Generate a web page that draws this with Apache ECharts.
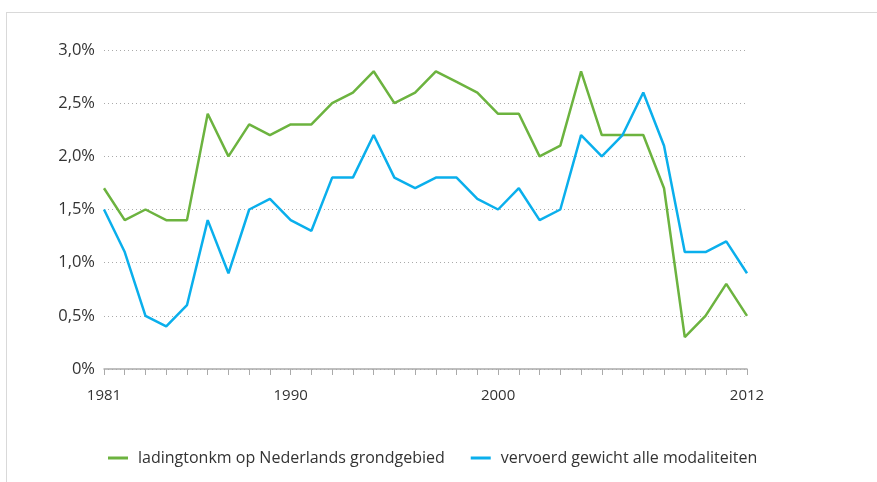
<!DOCTYPE html>
<html>
<head>
<meta charset="utf-8">
<script src="https://cdn.jsdelivr.net/npm/echarts@6/dist/echarts.min.js"></script>
<style>
  html, body { margin: 0; padding: 0; background: #fff; }
  #frame { position: absolute; left: 6px; top: 12px; width: 880px; height: 480px;
           border-left: 1px solid #d9d9d9; border-top: 1px solid #d9d9d9; }
  #chart { position: absolute; left: 0; top: 0; width: 877px; height: 482px; }
</style>
</head>
<body>
<div id="frame"></div>
<div id="chart"></div>
<script>
// jaren 1981-2012
const years = [];
for (let y = 1981; y <= 2012; y++) years.push(String(y));
const shownYears = ['1981', '1990', '2000', '2012'];

// ladingtonkm op Nederlands grondgebied (%)
const ladingtonkm = [1.7, 1.4, 1.5, 1.4, 1.4, 2.4, 2.0, 2.3, 2.2, 2.3,
    2.3, 2.5, 2.6, 2.8, 2.5, 2.6, 2.8, 2.7, 2.6, 2.4,
    2.4, 2.0, 2.1, 2.8, 2.2, 2.2, 2.2, 1.7, 0.3, 0.5,
    0.8, 0.5];
// vervoerd gewicht alle modaliteiten (%)
const vervoerd = [1.5, 1.1, 0.5, 0.4, 0.6, 1.4, 0.9, 1.5, 1.6, 1.4,
    1.3, 1.8, 1.8, 2.2, 1.8, 1.7, 1.8, 1.8, 1.6, 1.5,
    1.7, 1.4, 1.5, 2.2, 2.0, 2.2, 2.6, 2.1, 1.1, 1.1,
    1.2, 0.9];

const font = '"Open Sans", "Noto Sans", sans-serif';
const chart = echarts.init(document.getElementById('chart'));

chart.setOption({
    animation: false,
    textStyle: { fontFamily: font },
    grid: { left: 104, right: 130, top: 50, bottom: 113 },
    legend: {
        bottom: 11,
        left: 103,
        itemWidth: 20,
        itemHeight: 3,
        itemGap: 26,
        icon: 'rect',
        textStyle: { fontSize: 16, color: '#333', fontFamily: font, padding: [0, 0, 0, 5] },
        data: ['ladingtonkm op Nederlands grondgebied', 'vervoerd gewicht alle modaliteiten']
    },
    xAxis: {
        type: 'category',
        data: years,
        boundaryGap: false,
        axisLine: { lineStyle: { color: '#aaa', width: 1.5 } },
        axisTick: { alignWithLabel: true, interval: 0, length: 6, lineStyle: { color: '#aaa' } },
        axisLabel: {
            interval: (i, v) => shownYears.includes(v),
            color: '#333',
            fontSize: 15,
            margin: 19
        }
    },
    yAxis: {
        type: 'value',
        min: 0,
        max: 3,
        interval: 0.5,
        axisLine: { show: false },
        axisTick: { show: false },
        axisLabel: {
            color: '#333',
            fontSize: 16.5,
            margin: 9,
            formatter: v => v === 0 ? '0%' : v.toFixed(1).replace('.', ',') + '%'
        },
        splitLine: { lineStyle: { color: '#aaa', type: [1, 3], width: 1 } }
    },
    series: [
        {
            name: 'ladingtonkm op Nederlands grondgebied',
            type: 'line',
            data: ladingtonkm,
            symbol: 'none',
            lineStyle: { color: '#6cb33f', width: 2.5 },
            itemStyle: { color: '#6cb33f' }
        },
        {
            name: 'vervoerd gewicht alle modaliteiten',
            type: 'line',
            data: vervoerd,
            symbol: 'none',
            lineStyle: { color: '#0aafec', width: 2.5 },
            itemStyle: { color: '#0aafec' }
        }
    ]
});

window.addEventListener('resize', () => chart.resize());
</script>
</body>
</html>
